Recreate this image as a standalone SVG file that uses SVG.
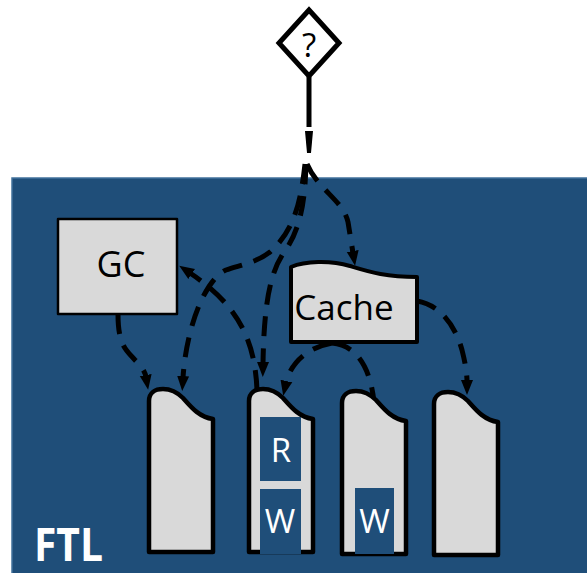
<svg xmlns="http://www.w3.org/2000/svg" xmlns:xlink="http://www.w3.org/1999/xlink" width="587" height="573" viewBox="0 0 587 573">
  <style>
    .lbl { font-family: "Open Sans", "Liberation Sans", sans-serif; fill: #000; text-anchor: middle; }
    .inv { font-family: "Open Sans", "Liberation Sans", sans-serif; fill: #fff; text-anchor: middle; }
    .box { fill: #d9d9d9; stroke: #000; stroke-linejoin: round; }
    .page { fill: #d9d9d9; stroke: #000; stroke-width: 4.5; stroke-linejoin: round; }
    .slot { fill: #1f4e79; }
    .dash { fill: none; stroke: #000; stroke-width: 5; stroke-dasharray: 20 12; }
  </style>
  <defs>
    <marker id="arrow" markerUnits="userSpaceOnUse" markerWidth="16" markerHeight="14" refX="2" refY="7" orient="auto">
      <path d="M0,1 L15,7 L0,13 Z" fill="#000"/>
    </marker>
    <!-- storage page: rounded hump on the top edge sloping to the right shoulder -->
    <path id="pageShape" d="M0,163 L0,12 C0,4 6,0 14,0 C22,0 28,3 34,9 C42,18 50,28 64,30 L64,163 Z"/>
  </defs>

  <!-- FTL panel -->
  <rect id="ftl-panel" x="12" y="178" width="580" height="400" fill="#1f4e79" stroke="#41719c" stroke-width="1.5"/>

  <!-- connectors -->
  <g id="connectors">
    <line x1="309" y1="77" x2="309" y2="127" stroke="#000" stroke-width="5"/>
    <polygon points="305,131 313,131 311,153 307,153" fill="#000"/>
    <!-- request to cache -->
    <path class="dash" d="M307,164 C318,190 343,200 348,222 L353,253" marker-end="url(#arrow)"/>
    <!-- request to first page -->
    <path class="dash" d="M305,164 C301,200 295,230 270,252 C256,263 240,265 226,270 C204,280 186,330 183,378" marker-end="url(#arrow)"/>
    <!-- request to second page -->
    <path class="dash" d="M306,164 C305,200 301,228 285,251 C271,270 264,300 263,364" marker-end="url(#arrow)"/>
    <!-- second page back to GC -->
    <path class="dash" d="M257,390 C255,340 238,305 190,273" marker-end="url(#arrow)"/>
    <!-- GC to first page -->
    <path class="dash" d="M118,314 C118,345 126,350 135,360 C141,366 145,371 146,377" marker-end="url(#arrow)"/>
    <!-- cache to second page -->
    <path class="dash" d="M332,343 C305,348 290,365 286,383" marker-end="url(#arrow)"/>
    <!-- cache to third page -->
    <path class="dash" d="M332,343 C355,345 370,365 374,402"/>
    <!-- cache to fourth page -->
    <path class="dash" d="M417,301 C440,305 455,325 462,350 C465,362 467,372 467,382" marker-end="url(#arrow)"/>
  </g>

  <!-- decision -->
  <g id="decision">
    <polygon points="309,10 339,43 309,76 279,43" fill="#fff" stroke="#000" stroke-width="5" stroke-linejoin="miter"/>
    <text class="lbl" x="309" y="57" font-size="33">?</text>
  </g>

  <!-- GC -->
  <g id="gc">
    <rect class="box" x="58" y="219" width="119" height="95" stroke-width="2.5"/>
    <text class="lbl" x="121" y="277" font-size="36">GC</text>
  </g>

  <!-- Cache -->
  <g id="cache">
    <path class="box" stroke-width="4" d="M291,267 C305,261 330,260 350,266 C370,272 385,277 417,277 L417,342 L291,342 Z"/>
    <text class="lbl" x="344" y="320" font-size="35">Cache</text>
  </g>

  <!-- pages -->
  <g id="page1">
    <use xlink:href="#pageShape" class="page" x="149" y="389"/>
  </g>
  <g id="page2">
    <use xlink:href="#pageShape" class="page" x="249" y="389"/>
    <rect class="slot" x="260" y="417" width="41" height="64"/>
    <text class="inv" x="281" y="462" font-size="33">R</text>
    <rect class="slot" x="260" y="489" width="41" height="65"/>
    <text class="inv" x="280" y="533" font-size="33">W</text>
  </g>
  <g id="page3">
    <use xlink:href="#pageShape" class="page" x="342" y="391"/>
    <rect class="slot" x="355" y="488" width="39" height="66"/>
    <text class="inv" x="374.5" y="533" font-size="33">W</text>
  </g>
  <g id="page4">
    <use xlink:href="#pageShape" class="page" x="434" y="392"/>
  </g>

  <!-- panel label -->
  <text id="ftl-label" x="34" y="561" font-family="'Open Sans', 'Liberation Sans', sans-serif" font-weight="bold" font-size="46" fill="#fff" textLength="69" lengthAdjust="spacingAndGlyphs">FTL</text>
</svg>
